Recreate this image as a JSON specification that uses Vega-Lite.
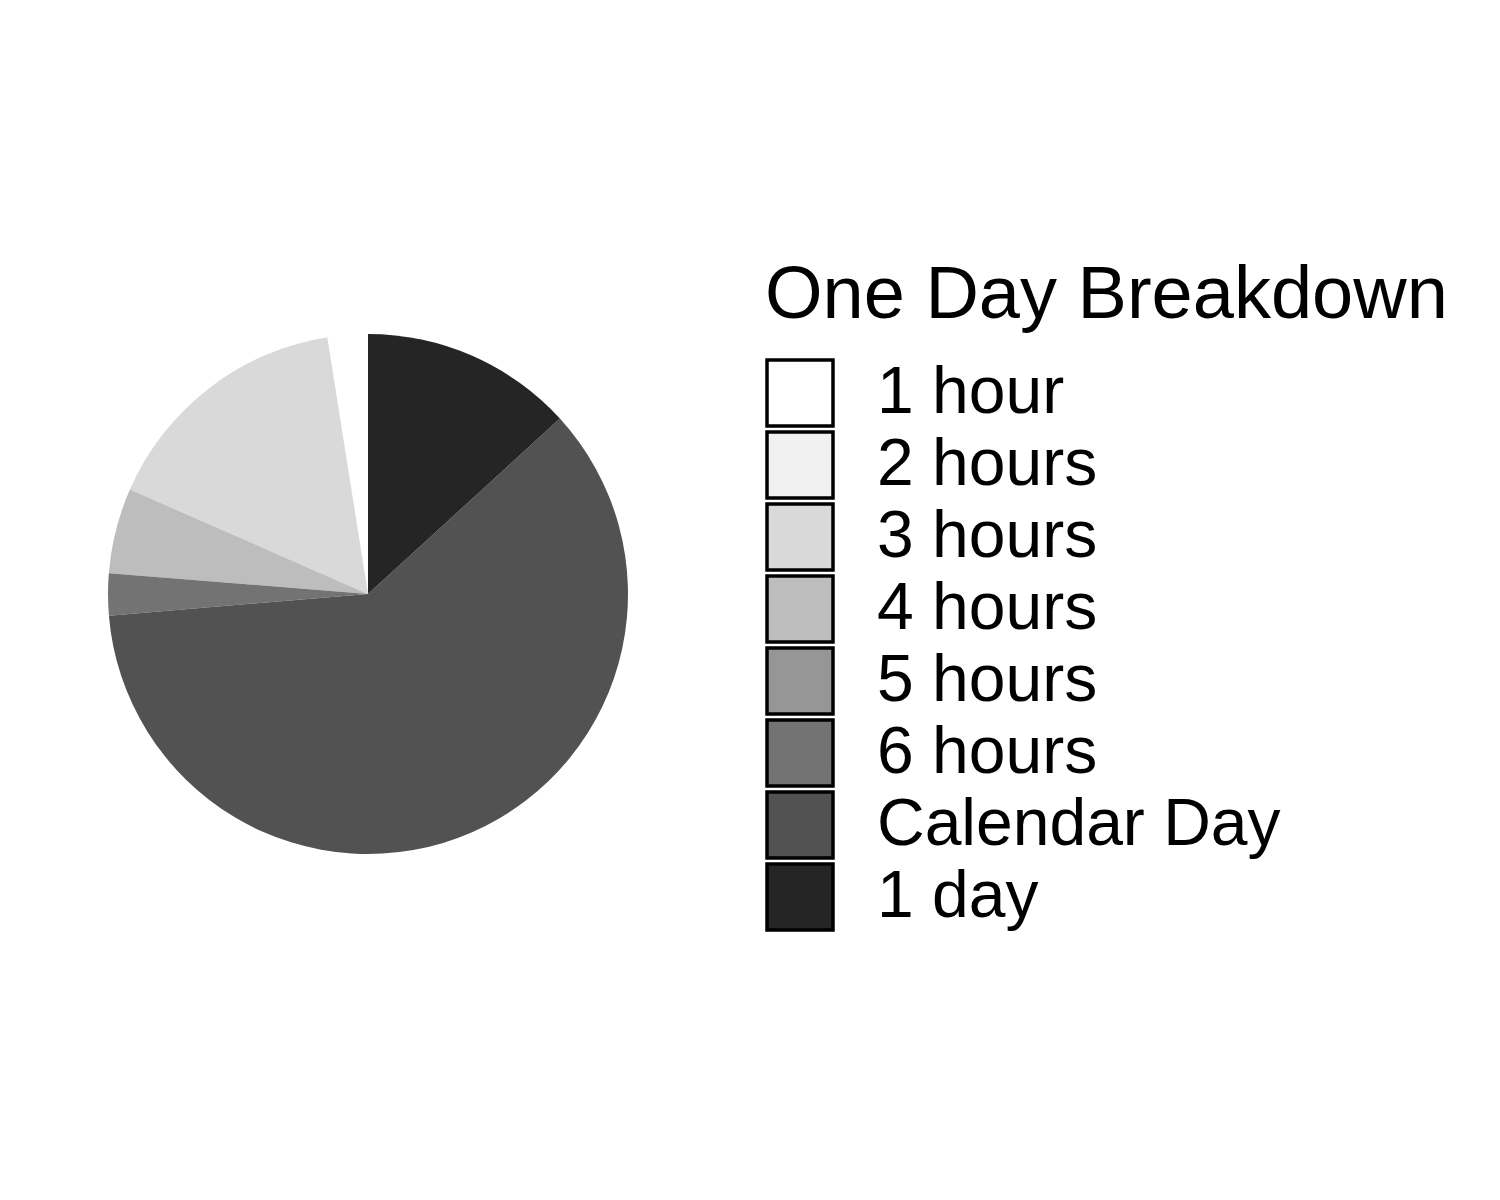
{
  "$schema": "https://vega.github.io/schema/vega-lite/v6.json",
  "autosize": {"type": "none"},
  "width": 520,
  "height": 520,
  "padding": {"left": 108, "top": 334, "right": 872, "bottom": 346},
  "background": "white",
  "config": {"view": {"stroke": null}, "font": "Liberation Sans"},
  "data": {
    "values": [
      {"category": "1 hour", "share": 2.5, "rank": 8},
      {"category": "2 hours", "share": 0, "rank": 7},
      {"category": "3 hours", "share": 15.9, "rank": 6},
      {"category": "4 hours", "share": 5.3, "rank": 5},
      {"category": "5 hours", "share": 0, "rank": 4},
      {"category": "6 hours", "share": 2.6, "rank": 3},
      {"category": "Calendar Day", "share": 60.4, "rank": 2},
      {"category": "1 day", "share": 13.2, "rank": 1}
    ]
  },
  "mark": {"type": "arc", "outerRadius": 260, "stroke": null},
  "encoding": {
    "theta": {"field": "share", "type": "quantitative", "stack": true},
    "order": {"field": "rank", "type": "quantitative"},
    "color": {
      "field": "category",
      "type": "nominal",
      "scale": {
        "domain": ["1 hour", "2 hours", "3 hours", "4 hours", "5 hours", "6 hours", "Calendar Day", "1 day"],
        "range": ["#FFFFFF", "#F0F0F0", "#D9D9D9", "#BDBDBD", "#969696", "#737373", "#525252", "#252525"]
      },
      "legend": {
        "title": "One Day Breakdown",
        "orient": "none",
        "legendX": 657,
        "legendY": -74,
        "titleFontSize": 74,
        "titleFontWeight": "normal",
        "titleColor": "black",
        "titleLimit": 2000,
        "titlePadding": 23,
        "labelFontSize": 66,
        "labelColor": "black",
        "labelOffset": 42,
        "labelLimit": 1000,
        "symbolType": "square",
        "symbolSize": 4356,
        "symbolStrokeColor": "black",
        "symbolStrokeWidth": 3.5,
        "symbolOpacity": 1,
        "clipHeight": 72,
        "rowPadding": 0
      }
    }
  }
}
